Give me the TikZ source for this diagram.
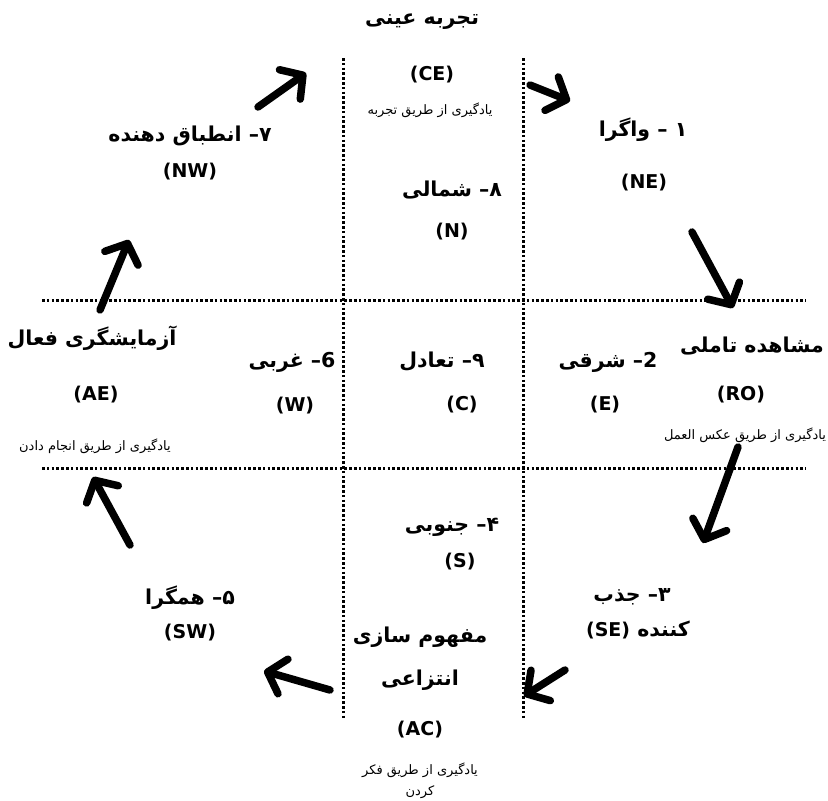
\documentclass[tikz,border=0pt]{standalone}
\usepackage{fontspec}
\newfontfamily\arabicfont[Script=Arabic]{DejaVu Sans}
\TeXXeTstate=1
\usetikzlibrary{arrows.meta}
\tikzset{
  lbl/.style={font=\arabicfont\bfseries\fontsize{20.5}{24}\selectfont, inner sep=0pt, anchor=center},
  lat/.style={font=\arabicfont\bfseries\fontsize{19}{22}\selectfont, inner sep=0pt, anchor=center},
  head/.style={font=\arabicfont\bfseries\fontsize{20.5}{24}\selectfont, inner sep=0pt, anchor=center},
  smalltxt/.style={font=\arabicfont\fontsize{13}{15}\selectfont, inner sep=0pt, anchor=center},
  dotline/.style={line width=3pt, dash pattern=on 2.6pt off 2.2pt},
  bigarrow/.style={line width=7.5pt, line cap=round, -{Straight Barb[length=16pt,width=36pt,round]}}
}
\begin{document}
\begin{tikzpicture}[x=1pt,y=-1pt]
\useasboundingbox[fill=white] (0,0) rectangle (828,801);
% dotted grid
\draw[dotline] (343,58) -- (343,720);
\draw[dotline] (523,58) -- (523,720);
\draw[dotline] (42,300) -- (806,300);
\draw[dotline] (42,468) -- (806,468);
% top
\node[head] (cehead) at (422,22) {\beginR تجربه عینی\endR};
\node[lat] (ce) at (432,75) {(CE)};
\node[smalltxt] (cesub) at (430,110) {\beginR یادگیری از طریق تجربه\endR};
% NW
\node[lbl] (nw1) at (190,136) {\beginR ۷– انطباق دهنده\endR};
\node[lat] (nw2) at (190,172) {(NW)};
% NE
\node[lbl] (ne1) at (643,130) {\beginR ۱ – واگرا\endR};
\node[lat] (ne2) at (644,183) {(NE)};
% N
\node[lbl] (n1) at (452,190) {\beginR ۸– شمالی\endR};
\node[lat] (n2) at (452,232) {(N)};
% AE
\node[head] (aehead) at (92,338) {\beginR آزمایشگری فعال\endR};
\node[lat] (ae) at (96,395) {(AE)};
\node[smalltxt] (aesub) at (95,446) {\beginR یادگیری از طریق انجام دادن\endR};
% W
\node[lbl] (w1) at (292,362) {\beginR 6– غربی\endR};
\node[lat] (w2) at (295,406) {(W)};
% C
\node[lbl] (c1) at (442,362) {\beginR ۹– تعادل\endR};
\node[lat] (c2) at (462,405) {(C)};
% E
\node[lbl] (e1) at (608,362) {\beginR 2– شرقی\endR};
\node[lat] (e2) at (605,405) {(E)};
% RO
\node[head] (rohead) at (752,346) {\beginR مشاهده تاملی\endR};
\node[lat] (ro) at (741,395) {(RO)};
\node[smalltxt] (rosub) at (745,435) {\beginR یادگیری از طریق عکس العمل\endR};
% S
\node[lbl] (s1) at (452,527) {\beginR ۴– جنوبی\endR};
\node[lat] (s2) at (460,562) {(S)};
% SE
\node[lbl] (se1) at (632,597) {\beginR ۳– جذب\endR};
\node[lbl] (se2) at (638,630) {\beginR کننده \beginL\fontsize{19}{22}\selectfont(SE)\endL\endR};
% SW
\node[lbl] (sw1) at (190,598) {\beginR ۵– همگرا\endR};
\node[lat] (sw2) at (190,633) {(SW)};
% AC
\node[head] (achead1) at (420,637) {\beginR مفهوم سازی\endR};
\node[head] (achead2) at (420,680) {\beginR انتزاعی\endR};
\node[lat] (ac) at (420,730) {(AC)};
\node[smalltxt] (acsub1) at (420,770) {\beginR یادگیری از طریق فکر\endR};
\node[smalltxt] (acsub2) at (420,792) {\beginR کردن\endR};
% arrows
\coordinate (a1s) at (258,107); \coordinate (a1e) at (306,73);
\coordinate (a2s) at (530,85);  \coordinate (a2e) at (570,101);
\coordinate (a3s) at (692,232); \coordinate (a3e) at (733,308);
\coordinate (a4s) at (738,447); \coordinate (a4e) at (703,543);
\coordinate (a5s) at (565,670); \coordinate (a5e) at (524,696);
\coordinate (a6s) at (330,690); \coordinate (a6e) at (264,671);
\coordinate (a7s) at (130,545); \coordinate (a7e) at (93,477);
\coordinate (a8s) at (100,310); \coordinate (a8e) at (129,240);
\foreach \i in {1,...,8} \draw[bigarrow] (a\i s) -- (a\i e);
\end{tikzpicture}
\end{document}
